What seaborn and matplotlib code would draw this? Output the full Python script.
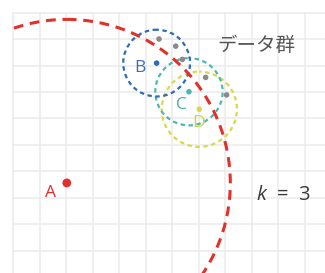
import matplotlib
matplotlib.use("Agg")
import matplotlib.pyplot as plt
from matplotlib.patches import Circle
import seaborn as sns
import pandas as pd

# データ (グリッド単位, y は下向き)
names = ['A', 'B', 'C', 'D']
pt_x = [2.03, 5.42, 6.64, 7.03]
pt_y = [6.43, 1.91, 2.99, 3.65]
radius = [6.17, 1.26, 1.27, 1.42]
label_x = [1.42, 4.79, 6.36, 6.99]
label_y = [6.82, 2.11, 3.49, 4.18]

gray_x = [5.51, 6.14, 6.39, 7.27, 8.06]
gray_y = [1.00, 1.27, 1.77, 2.45, 3.11]

colors = ['#e2302a', '#2f6cb4', '#4cb8b0', '#d8d84a']
label_colors = ['#e2302a', '#3a6fb5', '#4aaea8', '#d2d247']

sns.set_theme(style="white")
plt.rcParams['font.family'] = ['Open Sans', 'Noto Sans CJK JP', 'DejaVu Sans']
plt.rcParams['mathtext.fontset'] = 'custom'
plt.rcParams['mathtext.it'] = 'Open Sans:italic'
plt.rcParams['mathtext.rm'] = 'Open Sans'

fig = plt.figure(figsize=(3.25, 2.73), dpi=100)
unit = 26.5
ax = fig.add_axes([13 / 325, 0, 1 - 13 / 325, 1 - 12.5 / 273])
ax.set_xlim(0, 312 / unit)
ax.set_ylim(260.5 / unit, 0)

# グリッド
ax.set_xticks(range(0, 12))
ax.set_yticks(range(0, 10))
ax.grid(True, color='#ebebeb', lw=1.1)
ax.tick_params(length=0, labelbottom=False, labelleft=False)
for s in ax.spines.values():
    s.set_visible(False)
for gl in ax.get_xgridlines() + ax.get_ygridlines():
    gl.set_clip_on(False)

# 円 (B, C, D) 小さい破線
for i in [3, 2, 1]:
    ax.add_patch(Circle((pt_x[i], pt_y[i]), radius[i], fill=False,
                        ec=colors[i], lw=1.6, ls=(1, (2.0, 1.6)), zorder=2))

# k = 3 の円
ax.add_patch(Circle((pt_x[0], pt_y[0]), radius[0], fill=False,
                    ec=colors[0], lw=2.2, ls=(0, (3.2, 2.2)), zorder=3))

# 点
df_gray = pd.DataFrame({'x': gray_x, 'y': gray_y})
sns.scatterplot(data=df_gray, x='x', y='y', color='#8a8a8a', s=16,
                edgecolor='none', ax=ax, zorder=4)
sizes = [40, 16, 16, 16]
for i in range(4):
    sns.scatterplot(x=[pt_x[i]], y=[pt_y[i]], color=colors[i], s=sizes[i],
                    edgecolor='none', ax=ax, zorder=5)
    ax.text(label_x[i], label_y[i], names[i], color=label_colors[i],
            fontsize=12.5, ha='center', va='center', zorder=6)

ax.text(9.18, 1.23, 'データ群', color='#555555', fontsize=14,
        family=['Noto Sans CJK JP', 'DejaVu Sans'], ha='center', va='center')
ax.text(10.2, 6.9, '$k$  =  3', color='#3a3a3a', fontsize=14.5,
        ha='center', va='center')

ax.set_xlabel('')
ax.set_ylabel('')
fig.savefig('out.png', dpi=100)
